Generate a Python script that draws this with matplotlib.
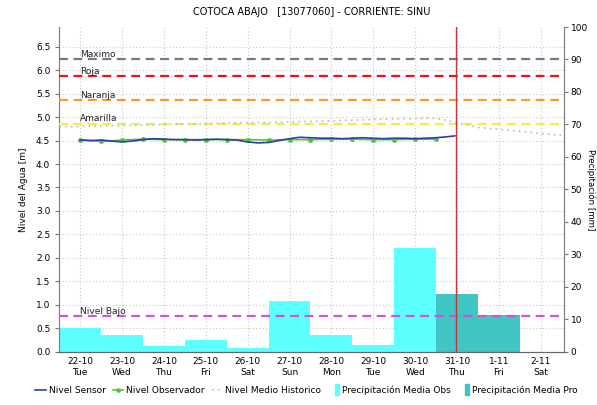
import numpy as np
import matplotlib.pyplot as plt
from matplotlib.patches import Patch, Rectangle
from matplotlib.lines import Line2D
from matplotlib.legend_handler import HandlerPatch

# Datos
dias = ['22-10', '23-10', '24-10', '25-10', '26-10', '27-10', '28-10',
        '29-10', '30-10', '31-10', '1-11', '2-11']
semana = ['Tue', 'Wed', 'Thu', 'Fri', 'Sat', 'Sun', 'Mon', 'Tue', 'Wed',
          'Thu', 'Fri', 'Sat']

# precipitación (mm), observada y pronosticada
precip_obs = [7.4, 5.1, 1.8, 3.6, 1.2, 15.7, 5.1, 2.1, 31.8]
precip_pro = [17.7, 11.3]

# nivel sensor (m), cada 6 h
t_sensor = [0, 0.25, 0.5, 0.75, 1.0, 1.25, 1.5, 1.75, 2.0, 2.25, 2.5, 2.75,
            3.0, 3.25, 3.5, 3.75, 4.0, 4.25, 4.5, 4.75, 5.0, 5.25, 5.5, 5.75,
            6.0, 6.25, 6.5, 6.75, 7.0, 7.25, 7.5, 7.75, 8.0, 8.25, 8.5, 8.75,
            8.95]
nivel_sensor = [4.51, 4.50, 4.51, 4.49, 4.47, 4.49, 4.52, 4.54, 4.53, 4.52,
                4.52, 4.51, 4.52, 4.53, 4.52, 4.51, 4.47, 4.45, 4.46, 4.50,
                4.54, 4.57, 4.56, 4.55, 4.55, 4.54, 4.55, 4.56, 4.55, 4.54,
                4.55, 4.55, 4.54, 4.55, 4.56, 4.58, 4.60]

# nivel observador (m), cada 12 h
t_obs = [0, 0.5, 1, 1.5, 2, 2.5, 3, 3.5, 4, 4.5, 5, 5.5, 6, 6.5, 7, 7.5, 8, 8.5]
nivel_obs = [4.52, 4.48, 4.51, 4.53, 4.52, 4.52, 4.52, 4.52, 4.52, 4.51,
             4.52, 4.52, 4.53, 4.53, 4.52, 4.52, 4.53, 4.53]

# nivel medio historico (m)
t_hist = [-0.5, 0, 1, 2, 3, 4, 5, 6, 7, 8, 8.5, 9, 9.5, 10, 10.5, 11, 11.55]
nivel_hist = [4.79, 4.80, 4.82, 4.84, 4.86, 4.88, 4.90, 4.92, 4.95, 4.97,
              4.98, 4.88, 4.78, 4.74, 4.70, 4.65, 4.61]

# umbrales (m)
umbrales = {'Maximo': 6.23, 'Roja': 5.87, 'Naranja': 5.36, 'Amarilla': 4.86,
            'Nivel Bajo': 0.76}
colores = {'Maximo': '#6f7890', 'Roja': '#ee1111', 'Naranja': '#ff9922',
           'Amarilla': '#eeee44', 'Nivel Bajo': '#cc55dd'}

t_actual = 8.97
ymax_nivel = 6.92
ymax_prec = 100

plt.rcParams['font.family'] = 'DejaVu Sans'
plt.rcParams['font.size'] = 6.5

fig = plt.figure(figsize=(5.97, 4.05), dpi=100)
ax2 = fig.add_axes([0.0993, 0.1316, 0.8449, 0.8017])
ax1 = ax2.twinx()
ax1.yaxis.tick_left()
ax1.yaxis.set_label_position('left')
ax2.yaxis.tick_right()
ax2.yaxis.set_label_position('right')

x = np.arange(len(dias))

# barras de precipitación
ax2.bar(x[:len(precip_obs)], precip_obs, width=1.0, color='#5effff', zorder=2)
ax2.bar(x[len(precip_obs):len(precip_obs) + len(precip_pro)], precip_pro,
        width=1.0, color='#40c4c4', zorder=2)
ax2.set_ylim(0, ymax_prec)
ax2.set_yticks(np.arange(0, 101, 10))
ax2.set_ylabel('Precipitación [mm]', rotation=-90, fontsize=6.2,
               va='center', ha='center')
ax2.yaxis.set_label_coords(1.054, 0.5)

# rejilla en posiciones del eje izquierdo
ticks_nivel = np.arange(0, 6.51, 0.5)
ax2.set_yticks(ticks_nivel * ymax_prec / ymax_nivel, minor=True)
ax2.tick_params(axis='y', which='minor', length=0)
ax2.set_axisbelow(True)
ax2.grid(which='minor', axis='y', color='#c8c8c8', linestyle=(0, (1, 2)), lw=0.8)
ax2.grid(which='major', axis='x', color='#c8c8c8', linestyle=(0, (1, 2)), lw=0.8)

# niveles
ax1.set_ylim(0, ymax_nivel)
ax1.set_yticks(ticks_nivel)
ax1.yaxis.set_major_formatter(plt.FormatStrFormatter('%.1f'))
ax1.set_ylabel('Nivel del Agua [m]', labelpad=6)

for nombre, valor in umbrales.items():
    ax1.axhline(valor, color=colores[nombre], lw=1.6, dashes=(4, 2.5), zorder=3)
    ax1.text(0, valor + 0.01, nombre, ha='left', va='bottom', fontsize=6.5,
             color='#222222', zorder=5)

ax1.plot(t_hist, nivel_hist, color='#bbbbbb', lw=1.2, linestyle=(0, (1, 2.5)),
         zorder=4)
ax1.plot(t_obs, nivel_obs, color='#5cbf3c', lw=1.2, marker='o', ms=2.5, zorder=5)
ax1.plot(t_sensor, nivel_sensor, color='#2840a8', lw=1.2, zorder=6)
ax1.axvline(t_actual, color='#cc3333', lw=1.0, zorder=7)

ax1.set_xlim(-0.5, 11.55)
ax2.set_xticks(x)
ax2.set_xticklabels([d + '\n' + s for d, s in zip(dias, semana)])
ax2.tick_params(axis='x', length=0, pad=4)
ax1.tick_params(axis='y', length=3, color='#777777')
ax2.tick_params(axis='y', which='major', length=3, pad=2, color='#777777')

for a in (ax1, ax2):
    a.spines['top'].set_visible(False)
    for s in ('left', 'right'):
        a.spines[s].set_color('#808080')
    a.spines['bottom'].set_color('#666666')
    a.spines['bottom'].set_linestyle((0, (1, 1)))

ax1.set_title('COTOCA ABAJO   [13077060] - CORRIENTE: SINU', fontsize=7, pad=9)


def parche_estrecho(legend, orig_handle, xdescent, ydescent, width, height, fontsize):
    return Rectangle((-xdescent + width * 0.62, -ydescent - 1.5), width * 0.38,
                     height + 3)


handles = [Line2D([], [], color='#2840a8', lw=1.2),
           Line2D([], [], color='#5cbf3c', lw=1.2, marker='o', ms=2.3),
           Line2D([], [], color='#bbbbbb', lw=1.2, linestyle=(0, (1, 2.5))),
           Patch(color='#5effff'), Patch(color='#40c4c4')]
labels = ['Nivel Sensor', 'Nivel Observador', 'Nivel Medio Historico',
          'Precipitación Media Obs', 'Precipitación Media Pro']
fig.legend(handles, labels, loc='lower left', bbox_to_anchor=(0.045, 0.005),
           ncol=5, frameon=False, fontsize=6.5, handlelength=1.2,
           handletextpad=0.3, columnspacing=0.8,
           handler_map={Patch: HandlerPatch(patch_func=parche_estrecho)})

fig.savefig('out.png', dpi=100)
